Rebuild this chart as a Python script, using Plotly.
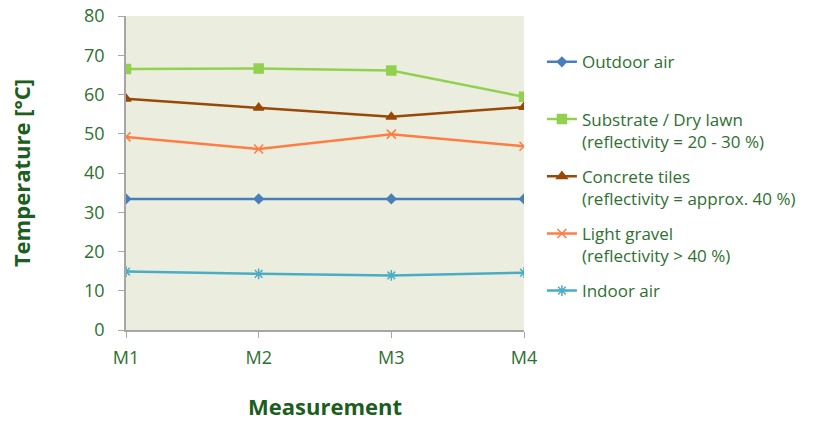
import plotly.graph_objects as go

categories = ["M1", "M2", "M3", "M4"]
outdoor_air = [33.4, 33.4, 33.4, 33.4]
substrate_dry_lawn = [66.5, 66.6, 66.1, 59.4]
concrete_tiles = [58.9, 56.6, 54.3, 56.8]
light_gravel = [49.2, 46.1, 49.9, 46.8]
indoor_air = [14.9, 14.3, 13.9, 14.6]
y_ticks = [0, 10, 20, 30, 40, 50, 60, 70, 80]

series = [
    ("Outdoor air<br> ", outdoor_air, "#4A7EBB", "diamond", 7),
    ("Substrate / Dry lawn<br>(reflectivity = 20 - 30 %)", substrate_dry_lawn, "#92D050", "square", 9),
    ("Concrete tiles<br>(reflectivity = approx. 40 %)", concrete_tiles, "#984807", "triangle-up", 9),
    ("Light gravel<br>(reflectivity > 40 %)", light_gravel, "#FF7C45", "x-thin-open", 9),
    ("Indoor air", indoor_air, "#4BACC6", "asterisk-open", 9),
]

x_idx = list(range(len(categories)))
fig = go.Figure()
for i, (name, vals, color, sym, size) in enumerate(series):
    fig.add_trace(go.Scatter(
        x=x_idx, y=vals, name=name, mode="lines+markers",
        line=dict(color=color, width=2.5),
        marker=dict(symbol=sym, size=size, color=color, line=dict(color=color, width=1.5)),
        legendgroup=f"g{i}",
    ))

text_green = "#2E7031"
title_green = "#1B5E20"
fig.update_layout(
    width=830, height=421,
    margin=dict(l=126, r=306, t=16, b=91),
    paper_bgcolor="white",
    plot_bgcolor="#EBEEDE",
    font=dict(family="Open Sans, sans-serif", size=17, color=text_green),
    showlegend=True,
    legend=dict(
        x=1.045, xanchor="left", xref="paper", y=0.91, yanchor="top",
        valign="top", tracegroupgap=10,
        font=dict(size=17, color=text_green),
        bgcolor="rgba(0,0,0,0)",
    ),
)
fig.update_xaxes(
    tickmode="array", tickvals=x_idx, ticktext=categories,
    range=[0, 3], showgrid=False, zeroline=False, automargin=False,
    showline=True, linecolor="#A6A6A6", linewidth=1.5,
    ticks="outside", ticklen=6, tickcolor="#A6A6A6",
    ticklabelstandoff=5,
    tickfont=dict(size=18, color=text_green),
    title=dict(text="<b>Measurement</b>", font=dict(size=22, color=title_green), standoff=32),
)
fig.update_yaxes(
    tickmode="array", tickvals=y_ticks, range=[0, 80],
    showgrid=False, zeroline=False, automargin=False,
    showline=True, linecolor="#A6A6A6", linewidth=1.5,
    ticks="outside", ticklen=6, tickcolor="#A6A6A6",
    ticklabelstandoff=10,
    tickfont=dict(size=18, color=text_green),
    title=dict(text="<b>Temperature [°C]</b>", font=dict(size=22, color=title_green), standoff=47),
)
# remove the page's default 8px body margin so the figure fills the window
fig.write_html("out.html", config={"displayModeBar": False},
               post_script="document.body.style.margin='0px';")
